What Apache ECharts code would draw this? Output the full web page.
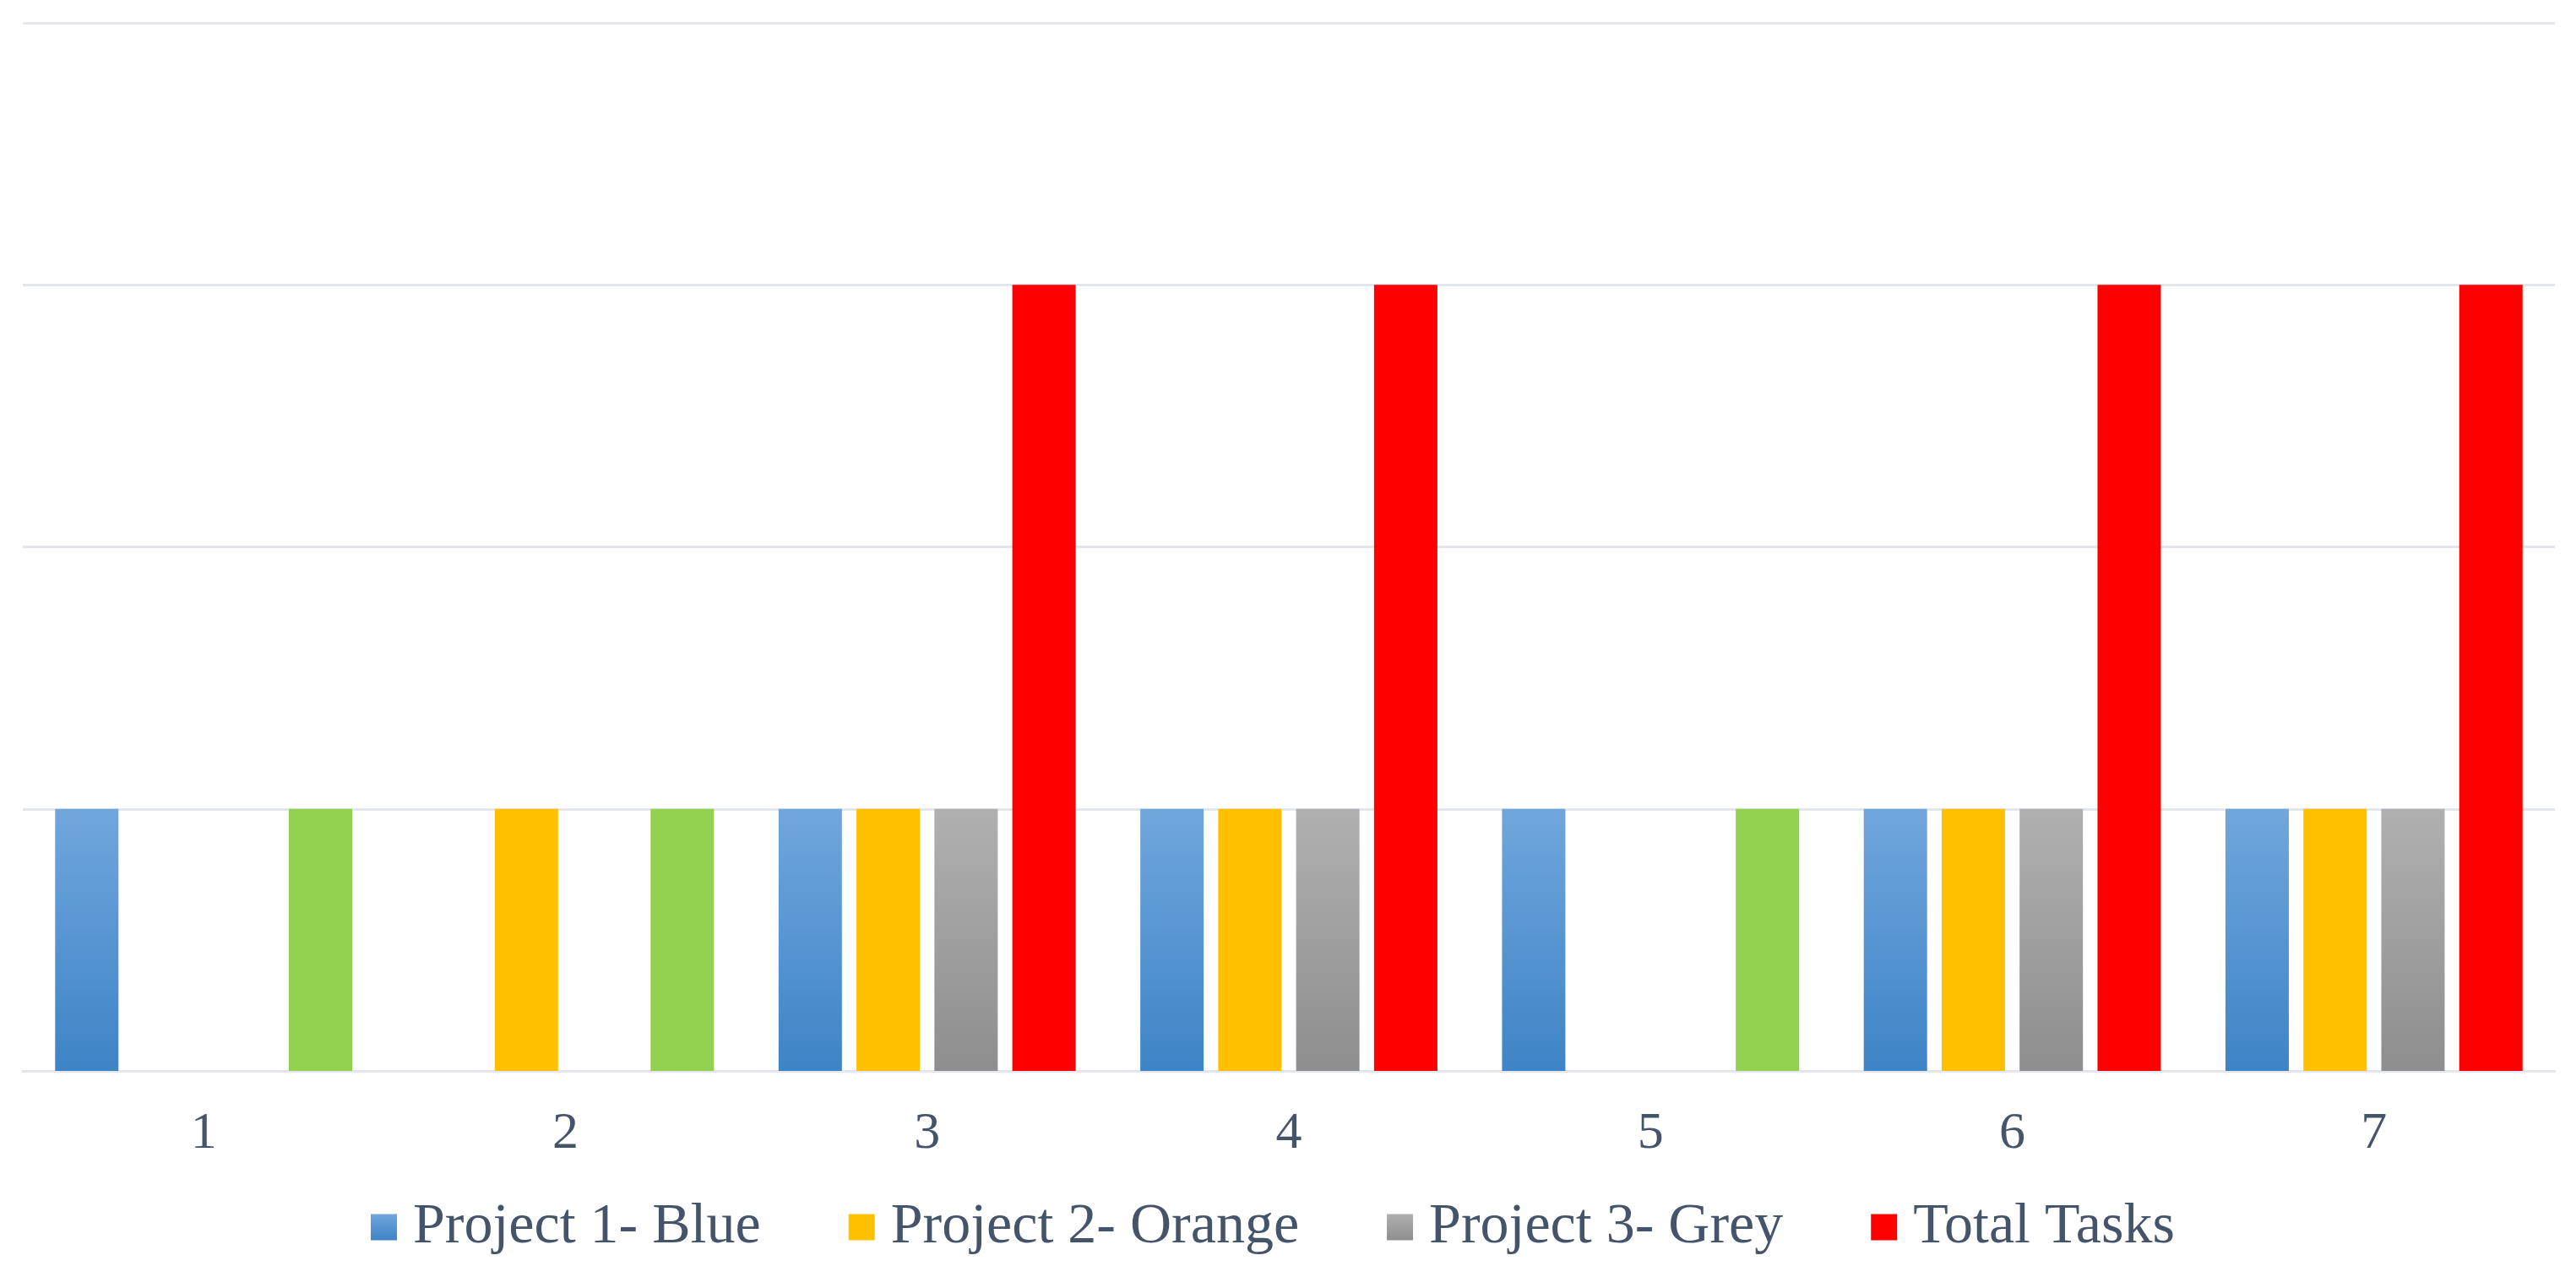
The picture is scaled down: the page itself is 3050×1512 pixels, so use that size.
<!DOCTYPE html>
<html>
<head>
<meta charset="utf-8">
<script src="https://cdn.jsdelivr.net/npm/echarts@6/dist/echarts.min.js"></script>
<style>
html,body{margin:0;padding:0;background:#fff;}
#c{width:3050px;height:1512px;}
</style>
</head>
<body>
<div id="c"></div>
<script>
var categories = ['1', '2', '3', '4', '5', '6', '7'];
var project1 = [1, 0, 1, 1, 1, 1, 1];
var project2 = [0, 1, 1, 1, 0, 1, 1];
var project3 = [0, 0, 1, 1, 0, 1, 1];
var totalTasks = [1, 1, 3, 3, 1, 3, 3];
var seriesNames = ['Project 1- Blue', 'Project 2- Orange', 'Project 3- Grey', 'Total Tasks'];

var chart = echarts.init(document.getElementById('c'));
function vgrad(top, bottom) {
  return new echarts.graphic.LinearGradient(0, 0, 0, 1, [
    {offset: 0, color: top}, {offset: 1, color: bottom}
  ]);
}
var font = '"Liberation Serif", "Times New Roman", serif';
var textColor = '#44546A';
var barW = 75;
var gap = '23%';
var blueFill = vgrad('#71a6dd', '#3d84c6');
var greyFill = vgrad('#b0b0b0', '#8e8e8e');
var orangeFill = '#FFC000';
var redFill = '#FF0000';
var greenFill = '#92D050';

chart.setOption({
  backgroundColor: '#ffffff',
  animation: false,
  grid: {left: 27, right: 25, top: 27, bottom: 244, containLabel: false},
  legend: {
    bottom: 20,
    left: 434,
    itemWidth: 31,
    itemHeight: 31,
    itemGap: 104,
    icon: 'rect',
    textStyle: {fontFamily: font, fontSize: 68, color: textColor, padding: [0, 0, 0, 14]},
    data: [
      {name: seriesNames[0], itemStyle: {color: blueFill}},
      {name: seriesNames[1], itemStyle: {color: orangeFill}},
      {name: seriesNames[2], itemStyle: {color: greyFill}},
      {name: seriesNames[3], itemStyle: {color: redFill}}
    ]
  },
  xAxis: {
    type: 'category',
    data: categories,
    axisLine: {show: true, lineStyle: {color: '#e3e6ec', width: 3}},
    axisTick: {show: false},
    axisLabel: {fontFamily: font, fontSize: 62, color: textColor, margin: 44}
  },
  yAxis: {
    type: 'value',
    min: 0, max: 4, interval: 1,
    axisLine: {show: false},
    axisTick: {show: false},
    axisLabel: {show: false},
    splitLine: {lineStyle: {color: '#e3e6ec', width: 3}}
  },
  series: [
    {name: seriesNames[0], type: 'bar', data: project1, barWidth: barW, barGap: gap,
     itemStyle: {color: blueFill}},
    {name: seriesNames[1], type: 'bar', data: project2, barWidth: barW, barGap: gap,
     itemStyle: {color: orangeFill}},
    {name: seriesNames[2], type: 'bar', data: project3, barWidth: barW, barGap: gap,
     itemStyle: {color: greyFill}},
    {name: seriesNames[3], type: 'bar', data: totalTasks, barWidth: barW, barGap: gap,
     itemStyle: {color: function (p) { return p.value < 3 ? greenFill : redFill; }}}
  ]
});
</script>
</body>
</html>
